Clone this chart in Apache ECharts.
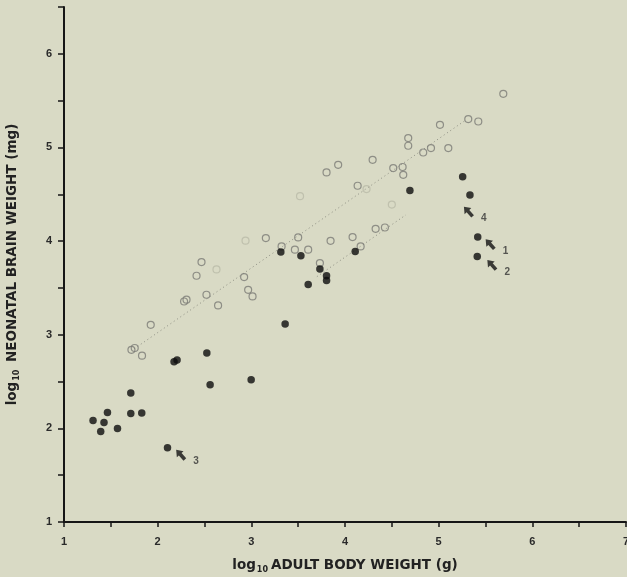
<!DOCTYPE html>
<html>
<head>
<meta charset="utf-8">
<script src="https://cdn.jsdelivr.net/npm/echarts@6/dist/echarts.min.js"></script>
<style>
  html, body { margin: 0; padding: 0; background: #d9dac5; }
  #chart { width: 627px; height: 577px; }
</style>
</head>
<body>
<div id="chart"></div>
<script>
// filled circles: [log10 adult body weight, log10 neonatal brain weight]
var filledPoints = [
  [1.310, 2.085], [1.392, 1.967], [1.427, 2.063], [1.464, 2.170], [1.571, 1.999],
  [1.713, 2.377], [1.713, 2.160], [1.830, 2.164], [2.105, 1.793], [2.175, 2.711],
  [2.207, 2.730], [2.525, 2.804], [2.560, 2.466], [2.998, 2.519], [3.361, 3.114],
  [3.315, 3.883], [3.529, 3.843], [3.607, 3.537], [3.732, 3.701], [3.803, 3.630],
  [3.803, 3.580], [4.109, 3.889], [4.693, 4.540], [5.256, 4.687], [5.334, 4.491],
  [5.417, 4.043], [5.412, 3.836]
];

// open circles
var openPoints = [
  [1.926, 3.106], [1.720, 2.839], [1.755, 2.858], [1.833, 2.776], [2.282, 3.355],
  [2.308, 3.374], [2.521, 3.427], [2.645, 3.313], [2.966, 3.480], [3.013, 3.409],
  [2.415, 3.630], [2.468, 3.776], [2.923, 3.616], [3.155, 4.032], [3.500, 4.039],
  [3.323, 3.943], [3.465, 3.908], [3.607, 3.908], [3.846, 4.003], [4.081, 4.043],
  [4.167, 3.943], [3.732, 3.765], [3.927, 4.815], [3.803, 4.733], [4.295, 4.868],
  [4.135, 4.591], [4.515, 4.780], [4.615, 4.791], [4.622, 4.708], [4.327, 4.131],
  [4.426, 4.145], [4.675, 5.100], [4.675, 5.018], [4.835, 4.946], [4.918, 4.993],
  [5.103, 4.993], [5.014, 5.242], [5.316, 5.303], [5.423, 5.277], [5.690, 5.573]
];

// faint (barely printed) open symbols
var faintPoints = [
  [3.52, 4.48], [4.23, 4.555], [2.628, 3.697], [2.938, 4.004], [4.50, 4.39]
];

// arrows with their numbers
var arrowPoints = [
  [5.548, 3.968, '1'], [5.566, 3.747, '2'], [2.244, 1.719, '3'], [5.316, 4.316, '4']
];

// dotted fitted lines
var upperLine = [[1.75, 2.85], [5.30, 5.30]];
var lowerLine = [[3.70, 3.62], [4.65, 4.28]];

var xTicks = [1, 7, 0.5];
var yTicks = [1, 6.5, 0.5];

var chart = echarts.init(document.getElementById('chart'));

var labelFont = {
  color: '#2a2a2a',
  fontSize: 11,
  fontWeight: 'bold',
  fontFamily: 'Liberation Sans'
};

var nameRich = {
  a: { fontSize: 13.5, fontWeight: 'bold', fontFamily: 'DejaVu Sans', color: '#222', lineHeight: 16 },
  s: { fontSize: 8, fontWeight: 'bold', fontFamily: 'DejaVu Sans', color: '#222', padding: [9, 3, 0, 1], lineHeight: 16 }
};

chart.setOption({
  backgroundColor: '#d9dac5',
  animation: false,
  grid: { left: 64, right: 1, top: 7, bottom: 55, containLabel: false, outerBoundsMode: 'none' },
  xAxis: {
    type: 'value',
    min: xTicks[0],
    max: xTicks[1],
    interval: xTicks[2],
    name: '{a|log}{s|10}{a|ADULT BODY WEIGHT (g)}',
    nameLocation: 'middle',
    nameGap: 35,
    nameTextStyle: { rich: nameRich },
    axisLine: { lineStyle: { color: '#161616', width: 2 } },
    axisTick: { inside: false, length: 5, lineStyle: { color: '#161616', width: 1.5 } },
    axisLabel: Object.assign({
      margin: 14,
      formatter: function (v) { return v % 1 === 0 ? v : ''; }
    }, labelFont),
    splitLine: { show: false }
  },
  yAxis: {
    type: 'value',
    min: yTicks[0],
    max: yTicks[1],
    interval: yTicks[2],
    name: '{a|log}{s|10}{a| NEONATAL BRAIN WEIGHT (mg)}',
    nameLocation: 'middle',
    nameGap: 44,
    nameTextStyle: { rich: nameRich },
    axisLine: { lineStyle: { color: '#161616', width: 2 } },
    axisTick: { inside: false, length: 6, lineStyle: { color: '#161616', width: 1.5 } },
    axisLabel: Object.assign({
      margin: 12,
      formatter: function (v) { return v % 1 === 0 ? v : ''; }
    }, labelFont),
    splitLine: { show: false }
  },
  series: [
    {
      type: 'line',
      data: upperLine,
      symbol: 'none',
      lineStyle: { color: '#8e8f83', width: 1, type: [1, 3] },
      z: 1
    },
    {
      type: 'line',
      data: lowerLine,
      symbol: 'none',
      lineStyle: { color: '#8e8f83', width: 1, type: [1, 3] },
      z: 1
    },
    {
      type: 'scatter',
      data: faintPoints,
      symbol: 'circle',
      symbolSize: 7,
      itemStyle: { color: 'rgba(0,0,0,0)', borderColor: '#b9baa8', borderWidth: 1.2 },
      z: 2
    },
    {
      type: 'scatter',
      data: openPoints,
      symbol: 'circle',
      symbolSize: 7,
      itemStyle: { color: 'rgba(0,0,0,0)', borderColor: '#7b7b76', borderWidth: 1.2 },
      z: 3
    },
    {
      type: 'scatter',
      data: filledPoints,
      symbol: 'circle',
      symbolSize: 7.5,
      itemStyle: { color: '#0d0d0d' },
      z: 4
    },
    {
      type: 'scatter',
      data: arrowPoints,
      symbol: 'path://M5,0 L10,6 L7,6 L7,13 L3,13 L3,6 L0,6 Z',
      symbolSize: [9, 13],
      symbolRotate: 42,
      itemStyle: { color: '#111' },
      label: {
        show: true,
        position: 'right',
        offset: [0, 7],
        formatter: function (p) { return p.data[2]; },
        color: '#333',
        fontSize: 10,
        fontWeight: 'bold',
        fontFamily: 'Liberation Sans'
      },
      z: 5
    }
  ]
});
</script>
</body>
</html>
